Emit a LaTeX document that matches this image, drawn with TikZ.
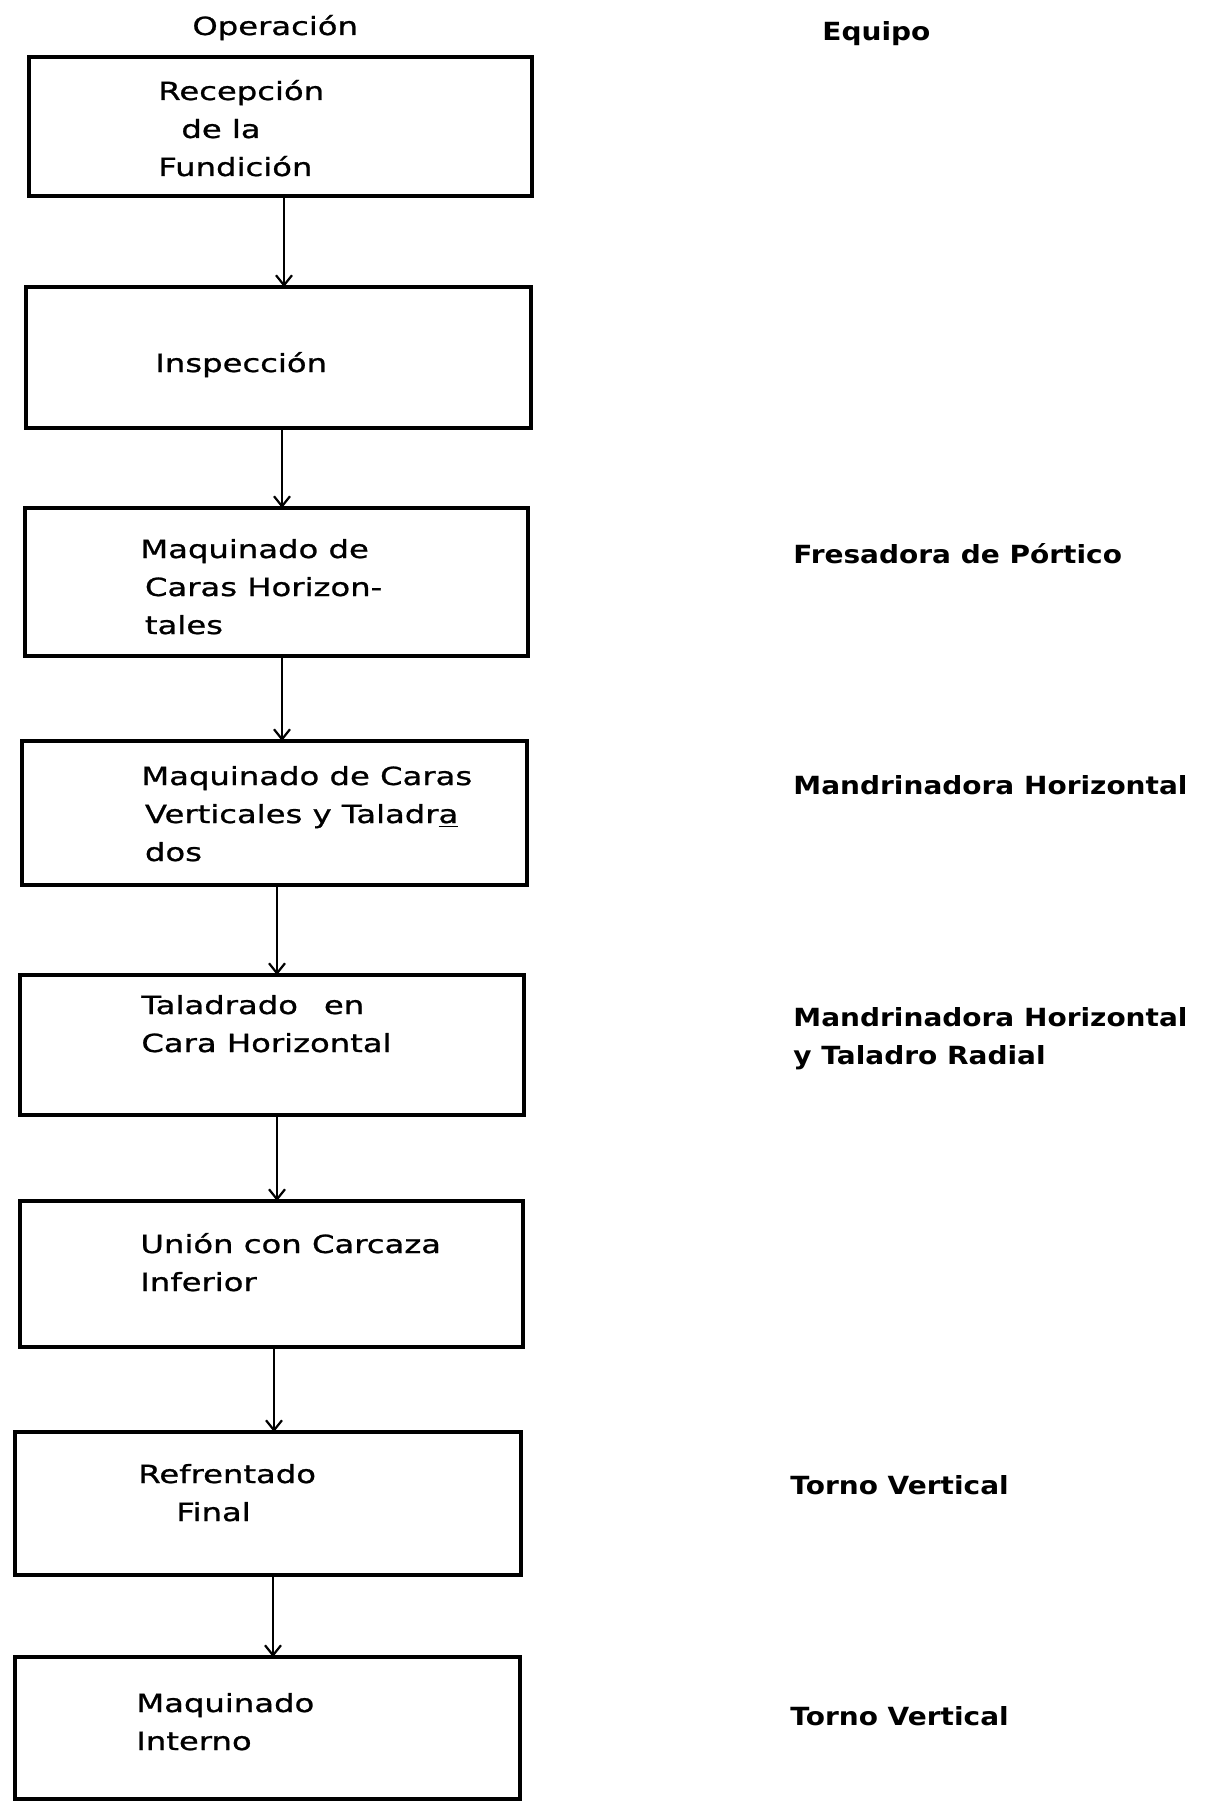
\documentclass[tikz,border=0pt]{standalone}
\usepackage{fontspec}
\setmainfont{DejaVu Sans}[FakeStretch=1.12]
\newfontfamily\opfont{DejaVu Sans}[FakeStretch=1.29,FakeBold=0.9]
\usetikzlibrary{arrows.meta,fit}
\begin{document}
\begin{tikzpicture}[x=0.5pt,y=-0.5pt,
  opbox/.style={draw, line width=1.8pt, inner sep=0pt, outer sep=0pt},
  flow/.style={line width=1.1pt, -{Straight Barb[length=5pt,width=8pt,line width=1.1pt]}},
  optext/.style={anchor=base west, inner sep=0pt, font=\opfont\fontsize{12.5}{19}\selectfont},
  eqtext/.style={anchor=base west, inner sep=0pt, font=\fontsize{12.5}{19}\selectfont\bfseries},
  ]
\useasboundingbox[fill=white] (0,0) rectangle (1204,1803);

% column headings
\node[optext] (hop) at (192,35) {Operación};
\node[eqtext] (heq) at (822,41) {Equipo};

% operation boxes
\node[opbox, fit={(29,57) (532,196)}] (b1) {};
\node[opbox, fit={(26,287) (531,428)}] (b2) {};
\node[opbox, fit={(25,508) (528,656)}] (b3) {};
\node[opbox, fit={(22,741) (527,885)}] (b4) {};
\node[opbox, fit={(20,975) (524,1115)}] (b5) {};
\node[opbox, fit={(20,1201) (523,1347)}] (b6) {};
\node[opbox, fit={(15,1432) (521,1575)}] (b7) {};
\node[opbox, fit={(15,1657) (520,1799)}] (b8) {};

% operation texts
\node[optext] (t1) at (158,100) {\begin{tabular}[t]{@{}l@{}}Recepción\\\hspace{11.5pt}de la\\Fundición\end{tabular}};
\node[optext] (t2) at (155,372) {Inspección};
\node[optext] (t3) at (140,558) {\begin{tabular}[t]{@{}l@{}}Maquinado de\\\hspace{2.3pt}Caras Horizon-\\\hspace{2.3pt}tales\end{tabular}};
\node[optext] (t4) at (141,785) {\begin{tabular}[t]{@{}l@{}}Maquinado de Caras\\\hspace{1.8pt}Verticales y Taladr\underline{a}\\\hspace{1.8pt}dos\end{tabular}};
\node[optext] (t5) at (141,1014) {\begin{tabular}[t]{@{}l@{}}Taladrado\hspace{13pt}en\\Cara Horizontal\end{tabular}};
\node[optext] (t6) at (140,1253) {\begin{tabular}[t]{@{}l@{}}Unión con Carcaza\\Inferior\end{tabular}};
\node[optext] (t7) at (138,1483) {\begin{tabular}[t]{@{}l@{}}Refrentado\\\hspace{19pt}Final\end{tabular}};
\node[optext] (t8) at (136,1712) {\begin{tabular}[t]{@{}l@{}}Maquinado\\Interno\end{tabular}};

% equipment texts
\node[eqtext] (e3) at (793,563) {Fresadora de Pórtico};
\node[eqtext] (e4) at (793,794) {Mandrinadora Horizontal};
\node[eqtext] (e5) at (793,1026) {\begin{tabular}[t]{@{}l@{}}Mandrinadora Horizontal\\y Taladro Radial\end{tabular}};
\node[eqtext] (e7) at (790,1494) {Torno Vertical};
\node[eqtext] (e8) at (790,1725) {Torno Vertical};

% flow arrows
\coordinate (x1) at (284,0);
\coordinate (x2) at (282,0);
\coordinate (x3) at (282,0);
\coordinate (x4) at (277,0);
\coordinate (x5) at (277,0);
\coordinate (x6) at (274,0);
\coordinate (x7) at (273,0);
\draw[flow] (b1.south -| x1) -- (b2.north -| x1);
\draw[flow] (b2.south -| x2) -- (b3.north -| x2);
\draw[flow] (b3.south -| x3) -- (b4.north -| x3);
\draw[flow] (b4.south -| x4) -- (b5.north -| x4);
\draw[flow] (b5.south -| x5) -- (b6.north -| x5);
\draw[flow] (b6.south -| x6) -- (b7.north -| x6);
\draw[flow] (b7.south -| x7) -- (b8.north -| x7);
\end{tikzpicture}
\end{document}
